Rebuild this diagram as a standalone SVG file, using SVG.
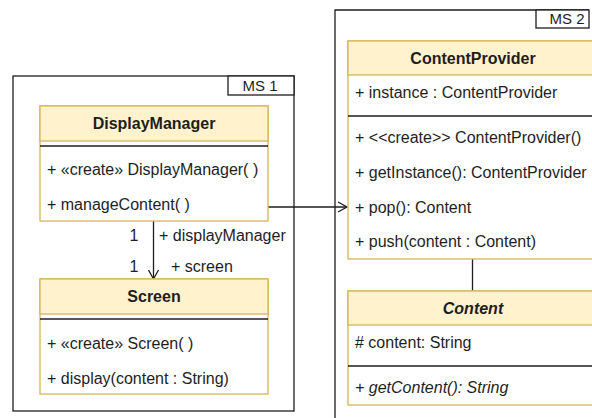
<svg xmlns="http://www.w3.org/2000/svg" width="592" height="418" viewBox="0 0 592 418">
<defs>
<style>
text{font-family:"Liberation Sans",Arial,sans-serif;fill:#1e1e1e;font-size:16px}
.t{font-weight:bold;text-anchor:middle}
.i{font-style:italic}
.hd{fill:#fff2cc;stroke:#d6b656;stroke-width:1.3}
.bd{fill:#ffffff;stroke:#d6b656;stroke-width:1.3}
.sep{stroke:#1e1e1e;stroke-width:1.3}
.fr{fill:none;stroke:#1e1e1e;stroke-width:1.3}
.lb{fill:#ffffff;stroke:#1e1e1e;stroke-width:1.3}
.ms{font-size:15px;text-anchor:middle}
.cn{fill:none;stroke:#1e1e1e;stroke-width:1.3}
</style>
<marker id="open" markerWidth="12" markerHeight="12" refX="10" refY="6" orient="auto" markerUnits="userSpaceOnUse">
<path d="M1,1 L10,6 L1,11" fill="none" stroke="#1e1e1e" stroke-width="1.3"/>
</marker>
</defs>

<g id="frame-ms1">
<rect class="fr" x="13" y="76" width="281" height="335"/>
<rect class="lb" x="228" y="76" width="66" height="19"/>
<text class="ms" x="260" y="91">MS 1</text>
</g>

<g id="frame-ms2">
<path class="fr" d="M335,420 L335,10 L589,10"/>
<rect class="lb" x="536" y="10" width="53" height="18"/>
<text class="ms" x="567" y="24">MS 2</text>
</g>

<g id="connectors">
<line class="cn" x1="268" y1="207" x2="347" y2="207" marker-end="url(#open)"/>
<line class="cn" x1="153.5" y1="221" x2="153.5" y2="279" marker-end="url(#open)"/>
<line class="cn" x1="472.5" y1="259" x2="472.5" y2="291"/>
<text x="134" y="241" style="text-anchor:middle">1</text>
<text x="159" y="241">+ displayManager</text>
<text x="134" y="272" style="text-anchor:middle">1</text>
<text x="171" y="272">+ screen</text>
</g>

<g id="DisplayManager">
<rect class="bd" x="40" y="106" width="228" height="115"/>
<rect class="hd" x="40" y="106" width="228" height="35"/>
<line class="sep" x1="40" y1="146" x2="268" y2="146"/>
<text class="t" x="154" y="129">DisplayManager</text>
<text x="47" y="175">+ «create» DisplayManager( )</text>
<text x="47" y="210">+ manageContent( )</text>
</g>

<g id="Screen">
<rect class="bd" x="40" y="279" width="228" height="115"/>
<rect class="hd" x="40" y="279" width="228" height="35"/>
<line class="sep" x1="40" y1="319" x2="268" y2="319"/>
<text class="t" x="154" y="302">Screen</text>
<text x="47" y="349">+ «create» Screen( )</text>
<text x="47" y="384">+ display(content : String)</text>
</g>

<g id="ContentProvider">
<rect class="bd" x="348" y="41" width="250" height="218"/>
<rect class="hd" x="348" y="41" width="250" height="34"/>
<line class="sep" x1="348" y1="116" x2="598" y2="116"/>
<text class="t" x="473" y="64">ContentProvider</text>
<text x="355" y="98">+ instance : ContentProvider</text>
<text x="355" y="143">+ &lt;&lt;create&gt;&gt; ContentProvider()</text>
<text x="355" y="178">+ getInstance(): ContentProvider</text>
<text x="355" y="213">+ pop(): Content</text>
<text x="355" y="247">+ push(content : Content)</text>
</g>

<g id="Content">
<rect class="bd" x="348" y="291" width="250" height="114"/>
<rect class="hd" x="348" y="291" width="250" height="34"/>
<line class="sep" x1="348" y1="366" x2="598" y2="366"/>
<text class="t i" x="473" y="314">Content</text>
<text x="355" y="348"># content: String</text>
<text class="i" x="355" y="393">+ getContent(): String</text>
</g>
</svg>
